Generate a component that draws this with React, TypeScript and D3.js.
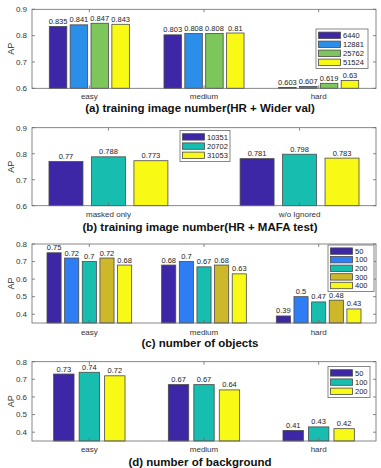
import React from "react";
import * as d3 from "d3";

// ---------- DATA ----------
const catsA = ["easy", "medium", "hard"];
const seriesNamesA = ["6440", "12881", "25762", "51524"];
const valuesA = [
  [0.835, 0.803, 0.603],
  [0.841, 0.808, 0.607],
  [0.847, 0.808, 0.619],
  [0.843, 0.81, 0.63],
];
const titleA = "(a) training image number(HR + Wider val)";

const catsB = ["masked only", "w/o Ignored"];
const seriesNamesB = ["10351", "20702", "31053"];
const valuesB = [
  [0.77, 0.781],
  [0.788, 0.798],
  [0.773, 0.783],
];
const titleB = "(b) training image number(HR + MAFA test)";

const catsC = ["easy", "medium", "hard"];
const seriesNamesC = ["50", "100", "200", "300", "400"];
const valuesC = [
  [0.75, 0.68, 0.39],
  [0.72, 0.7, 0.5],
  [0.7, 0.67, 0.47],
  [0.72, 0.68, 0.48],
  [0.68, 0.63, 0.43],
];
const titleC = "(c) number of objects";

const catsD = ["easy", "medium", "hard"];
const seriesNamesD = ["50", "100", "200"];
const valuesD = [
  [0.73, 0.67, 0.41],
  [0.74, 0.67, 0.43],
  [0.72, 0.64, 0.42],
];
const titleD = "(d) number of background";

const ticksAB = [0.6, 0.7, 0.8, 0.9];
const ticksCD = [0.4, 0.5, 0.6, 0.7, 0.8];
const yLabel = "AP";

// ---------- STYLE ----------
const DARK = "#3d27a6";
const BLUE_A = "#2b8ee8";
const GREEN = "#7cc65b";
const YELLOW = "#f8f915";
const TEAL = "#17bdae";
const BLUE_C = "#2f7df5";
const GOLD = "#cdb82c";

const FONT = "'Liberation Sans', Arial, Helvetica, sans-serif";

type Panel = {
  cats: string[];
  names: string[];
  values: number[][];
  colors: string[];
  title: string;
  top: number;
  bottom: number;
  xDomain: [number, number];
  yDomain: [number, number];
  ticks: number[];
  catY: number;
  titleY: number;
  legend: { x: number; y: number; w: number; row: number };
  barWidthFactor: number;
};

const LEFT = 32;
const RIGHT = 376;

function BarPanel({ p }: { p: Panel }) {
  const x = d3.scaleLinear().domain(p.xDomain).range([LEFT, RIGHT]);
  const y = d3.scaleLinear().domain(p.yDomain).range([p.bottom, p.top]);
  const n = p.names.length;
  const groupWidth = Math.min(0.8, n / (n + 1.5));
  const step = groupWidth / n;
  const bw = step * p.barWidthFactor;
  const unit = x(1) - x(0);
  const axisColor = "#6a6a6a";
  const textColor = "#333";
  const lg = p.legend;
  const lgH = p.names.length * lg.row + 3.5;
  return (
    <g>
      {/* bars */}
      {p.values.map((serie, si) =>
        serie.map((v, ci) => {
          const cx = ci + 1 - groupWidth / 2 + step * (si + 0.5);
          const x0 = x(cx - bw / 2);
          const w = bw * unit;
          const yt = y(v);
          return (
            <g key={`${si}-${ci}`}>
              <rect
                x={x0}
                y={yt}
                width={w}
                height={p.bottom - yt}
                fill={p.colors[si]}
                stroke="#4a4a4a"
                strokeWidth={0.8}
              />
              <text
                x={x(cx)}
                y={yt - 2.5}
                textAnchor="middle"
                fontSize={7.5}
                fill="#222"
                fontFamily={FONT}
              >
                {String(v)}
              </text>
            </g>
          );
        })
      )}
      {/* box */}
      <rect
        x={LEFT}
        y={p.top}
        width={RIGHT - LEFT}
        height={p.bottom - p.top}
        fill="none"
        stroke={axisColor}
        strokeWidth={0.8}
      />
      {/* y ticks */}
      {p.ticks.map((t) => (
        <g key={t}>
          <line x1={LEFT} x2={LEFT + 3} y1={y(t)} y2={y(t)} stroke={axisColor} strokeWidth={0.8} />
          <line x1={RIGHT} x2={RIGHT - 3} y1={y(t)} y2={y(t)} stroke={axisColor} strokeWidth={0.8} />
          <text
            x={LEFT - 5}
            y={y(t)}
            dy="0.35em"
            textAnchor="end"
            fontSize={8}
            fill={textColor}
            fontFamily={FONT}
          >
            {String(t)}
          </text>
        </g>
      ))}
      {/* x ticks */}
      {p.cats.map((c, ci) => (
        <g key={c}>
          <line x1={x(ci + 1)} x2={x(ci + 1)} y1={p.bottom} y2={p.bottom - 3} stroke={axisColor} strokeWidth={0.8} />
          <line x1={x(ci + 1)} x2={x(ci + 1)} y1={p.top} y2={p.top + 3} stroke={axisColor} strokeWidth={0.8} />
          <text
            x={x(ci + 1)}
            y={p.catY}
            dy="0.35em"
            textAnchor="middle"
            fontSize={8}
            fill={textColor}
            fontFamily={FONT}
          >
            {c}
          </text>
        </g>
      ))}
      {/* y label */}
      <text
        transform={`translate(11,${(p.top + p.bottom) / 2}) rotate(-90)`}
        textAnchor="middle"
        dy="0.35em"
        fontSize={9}
        fill={textColor}
        fontFamily={FONT}
      >
        {yLabel}
      </text>
      {/* title */}
      <text
        x={(LEFT + RIGHT) / 2 - 4}
        y={p.titleY}
        dy="0.35em"
        textAnchor="middle"
        fontSize={11.5}
        fontWeight="bold"
        fill="#111"
        fontFamily={FONT}
      >
        {p.title}
      </text>
      {/* legend */}
      <g>
        <rect x={lg.x} y={lg.y} width={lg.w} height={lgH} fill="#fff" stroke={axisColor} strokeWidth={0.8} />
        {p.names.map((nm, i) => {
          const cy = lg.y + 1.8 + lg.row * (i + 0.5);
          return (
            <g key={nm}>
              <rect
                x={lg.x + 2.5}
                y={cy - 3.2}
                width={22}
                height={6.4}
                fill={p.colors[i]}
                stroke="#4a4a4a"
                strokeWidth={0.8}
              />
              <text
                x={lg.x + 27}
                y={cy}
                dy="0.35em"
                fontSize={7.5}
                fill="#222"
                fontFamily={FONT}
              >
                {nm}
              </text>
            </g>
          );
        })}
      </g>
    </g>
  );
}

export default function App() {
  const panels: Panel[] = [
    {
      cats: catsA,
      names: seriesNamesA,
      values: valuesA,
      colors: [DARK, BLUE_A, GREEN, YELLOW],
      title: titleA,
      top: 9.3,
      bottom: 88.3,
      xDomain: [0.5, 3.5],
      yDomain: [0.6, 0.9],
      ticks: ticksAB,
      catY: 96,
      titleY: 108,
      legend: { x: 316, y: 29, w: 52, row: 9 },
      barWidthFactor: 0.84,
    },
    {
      cats: catsB,
      names: seriesNamesB,
      values: valuesB,
      colors: [DARK, TEAL, YELLOW],
      title: titleB,
      top: 127.7,
      bottom: 205.7,
      xDomain: [0.6, 2.4],
      yDomain: [0.6, 0.9],
      ticks: ticksAB,
      catY: 214,
      titleY: 227,
      legend: { x: 180, y: 130.5, w: 50, row: 9.2 },
      barWidthFactor: 0.8,
    },
    {
      cats: catsC,
      names: seriesNamesC,
      values: valuesC,
      colors: [DARK, BLUE_C, TEAL, GOLD, YELLOW],
      title: titleC,
      top: 244,
      bottom: 323,
      xDomain: [0.5, 3.5],
      yDomain: [0.35, 0.8],
      ticks: ticksCD,
      catY: 332,
      titleY: 343,
      legend: { x: 328, y: 245, w: 46, row: 8.6 },
      barWidthFactor: 0.8,
    },
    {
      cats: catsD,
      names: seriesNamesD,
      values: valuesD,
      colors: [DARK, TEAL, YELLOW],
      title: titleD,
      top: 361.7,
      bottom: 441,
      xDomain: [0.5, 3.5],
      yDomain: [0.35, 0.8],
      ticks: ticksCD,
      catY: 449,
      titleY: 461.5,
      legend: { x: 328, y: 366.5, w: 42, row: 9.2 },
      barWidthFactor: 0.8,
    },
  ];
  return (
    <div style={{ position: "absolute", left: 0, top: 0 }}>
      <svg width={381} height={468} style={{ display: "block", background: "#fff" }}>
        {panels.map((p, i) => (
          <BarPanel key={i} p={p} />
        ))}
      </svg>
    </div>
  );
}
